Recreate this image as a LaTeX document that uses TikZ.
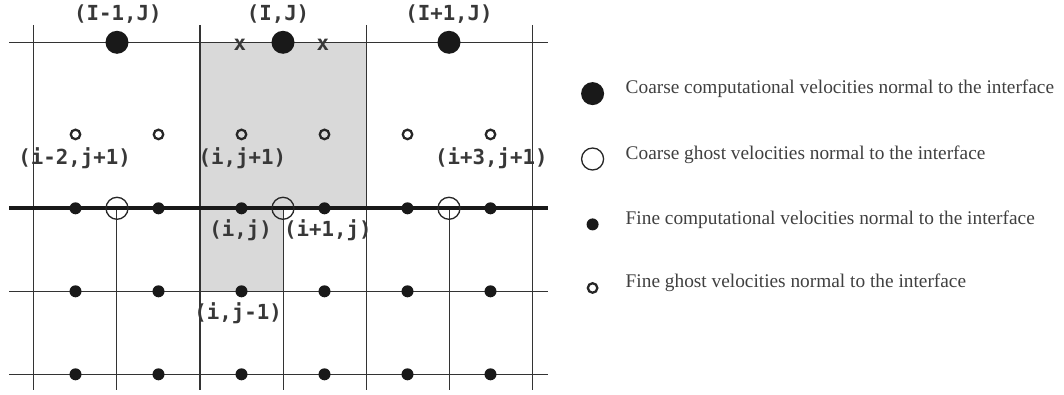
\documentclass[tikz,border=0pt]{standalone}
\usepackage{fontspec}
\setmainfont{Liberation Serif}
\setmonofont{DejaVu Sans Mono}
\usepackage{tikz}
\usetikzlibrary{positioning}
\tikzset{
  grd/.style  ={line width=0.57pt, black!80},
  ifc/.style  ={line width=2.3pt, black!90},
  shd/.style  ={fill=black!15},
  % velocity markers
  cvel/.style ={circle, fill=black!90, minimum size=4.6mm, inner sep=0pt},
  cgho/.style ={draw, circle, black!85, minimum size=4.4mm, inner sep=0pt,
                line width=0.75pt},
  fvel/.style ={circle, fill=black!90, minimum size=2.4mm, inner sep=0pt},
  fgho/.style ={draw, circle, black!85, minimum size=1.9mm, inner sep=0pt,
                line width=1.3pt},
  lbl/.style  ={font=\fontsize{11.8}{14}\selectfont\ttfamily\bfseries,
                text=black!78, inner sep=0pt},
  legtxt/.style={font=\fontsize{11}{13}\selectfont, text=black!75,
                inner sep=0pt, anchor=base west},
}
\begin{document}
\begin{tikzpicture}[x=1.66cm, y=1.66cm]
  \useasboundingbox (-0.4096,-2.2373) rectangle (12.4096,2.5096);
  % shaded coarse cell and fine cell
  \fill[shd] (2,0) rectangle (4,2);
  \fill[shd] (2,-1) rectangle (3,0);
  % grid
  \draw[grd] (-0.3,2) -- (6.19,2);
  \draw[grd] (-0.3,-1) -- (6.19,-1);
  \draw[grd] (-0.3,-2) -- (6.19,-2);
  \draw[grd] (0,2.21) -- (0,-2.19);
  \draw[grd] (2,2.21) -- (2,-2.19);
  \draw[grd] (4,2.21) -- (4,-2.19);
  \draw[grd] (6,2.21) -- (6,-2.19);
  \draw[grd] (1,0) -- (1,-2.19);
  \draw[grd] (3,0) -- (3,-2.19);
  \draw[grd] (5,0) -- (5,-2.19);
  \draw[ifc] (-0.3,0) -- (6.19,0);
  % coarse velocities
  \node[cvel] (cIm) at (1,2) {};
  \node[cvel] (cI)  at (3,2) {};
  \node[cvel] (cIp) at (5,2) {};
  \node[lbl] (xl) at (2.48,1.97) {x};
  \node[lbl] (xr) at (3.48,1.97) {x};
  \node[cgho] (gIm) at (1,0) {};
  \node[cgho] (gI)  at (3,0) {};
  \node[cgho] (gIp) at (5,0) {};
  % fine ghost velocities
  \node[fgho] (g1) at (0.5,0.89) {};
  \node[fgho] (g2) at (1.5,0.89) {};
  \node[fgho] (g3) at (2.5,0.89) {};
  \node[fgho] (g4) at (3.5,0.89) {};
  \node[fgho] (g5) at (4.5,0.89) {};
  \node[fgho] (g6) at (5.5,0.89) {};
  % fine computational velocities
  \node[fvel] (f10) at (0.5,0) {};
  \node[fvel] (f20) at (1.5,0) {};
  \node[fvel] (f30) at (2.5,0) {};
  \node[fvel] (f40) at (3.5,0) {};
  \node[fvel] (f50) at (4.5,0) {};
  \node[fvel] (f60) at (5.5,0) {};
  \node[fvel] (f11) at (0.5,-1) {};
  \node[fvel] (f21) at (1.5,-1) {};
  \node[fvel] (f31) at (2.5,-1) {};
  \node[fvel] (f41) at (3.5,-1) {};
  \node[fvel] (f51) at (4.5,-1) {};
  \node[fvel] (f61) at (5.5,-1) {};
  \node[fvel] (f12) at (0.5,-2) {};
  \node[fvel] (f22) at (1.5,-2) {};
  \node[fvel] (f32) at (2.5,-2) {};
  \node[fvel] (f42) at (3.5,-2) {};
  \node[fvel] (f52) at (4.5,-2) {};
  \node[fvel] (f62) at (5.5,-2) {};
  % labels
  \node[lbl] at (1.01,2.335) {(I-1,J)};
  \node[lbl] at (2.94,2.335) {(I,J)};
  \node[lbl] at (5.0,2.335)  {(I+1,J)};
  \node[lbl] at (0.49,0.606) {(i-2,j+1)};
  \node[lbl] at (2.51,0.606) {(i,j+1)};
  \node[lbl] at (5.51,0.606) {(i+3,j+1)};
  \node[lbl] at (2.49,-0.26) {(i,j)};
  \node[lbl] at (3.54,-0.26) {(i+1,j)};
  \node[lbl] at (2.46,-1.26) {(i,j-1)};
  % legend
  \node[cvel] (lc1) at (6.73,1.382) {};
  \node[cgho] (lc2) at (6.73,0.594) {};
  \node[fvel] (lc3) at (6.73,-0.194) {};
  \node[fgho] (lc4) at (6.73,-0.96) {};
  \node[legtxt] (lt1) at (7.125,1.382) {Coarse computational velocities normal to the interface};
  \node[legtxt] (lt2) at (7.125,0.594) {Coarse ghost velocities normal to the interface};
  \node[legtxt] (lt3) at (7.125,-0.194) {Fine computational velocities normal to the interface};
  \node[legtxt] (lt4) at (7.125,-0.96) {Fine ghost velocities normal to the interface};
\end{tikzpicture}
\end{document}
